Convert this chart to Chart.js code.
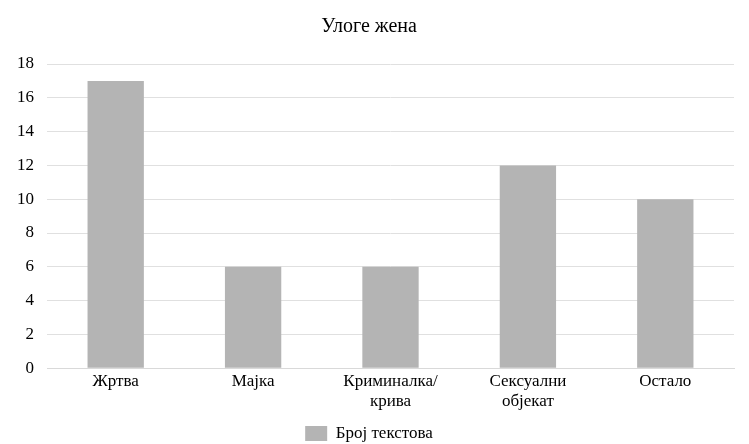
<!DOCTYPE html>
<html>
<head>
<meta charset="utf-8">
<script src="https://cdn.jsdelivr.net/npm/chart.js@4"></script>
<style>
  html, body { margin: 0; padding: 0; background: #fff; }
  #wrap { width: 749px; height: 444px; }
</style>
</head>
<body>
<div id="wrap"><canvas id="grafik" width="749" height="444"></canvas></div>
<script>
// podaci sa grafika
const kategorije = ["Жртва", "Мајка", ["Криминалка/", "крива"], ["Сексуални", "објекат"], "Остало"];
const brojTekstova = [17, 6, 6, 12, 10];
const naslov = "Улоге жена";
const nazivSerije = "Број текстова";

const font = "Liberation Serif, Times New Roman, serif";

new Chart(document.getElementById("grafik").getContext("2d"), {
    type: "bar",
    data: {
        labels: kategorije,
        datasets: [{
            label: nazivSerije,
            data: brojTekstova,
            backgroundColor: "#b4b4b4",
            borderWidth: 0,
            categoryPercentage: 1,
            barPercentage: 0.41
        }]
    },
    options: {
        responsive: false,
        animation: false,
        layout: { padding: { left: 4, right: 15, top: 8, bottom: -8 } },
        plugins: {
            title: {
                display: true,
                text: naslov,
                color: "#000",
                font: { family: font, size: 20, weight: "normal" },
                padding: { top: 7, bottom: 25 }
            },
            legend: {
                position: "bottom",
                labels: {
                    color: "#000",
                    font: { family: font, size: 17 },
                    boxWidth: 22,
                    boxHeight: 15,
                    padding: 4
                }
            },
            tooltip: { enabled: false }
        },
        scales: {
            x: {
                grid: { display: false, drawTicks: false },
                border: { color: "#d9d9d9" },
                ticks: {
                    color: "#000",
                    font: { family: font, size: 17, lineHeight: 1.2 },
                    maxRotation: 0,
                    padding: 3
                },
                afterFit: function (scale) { scale.height += 6; }
            },
            y: {
                min: 0,
                max: 18,
                grid: { color: "#e0e0e0", drawTicks: false },
                border: { display: false },
                ticks: {
                    stepSize: 2,
                    color: "#000",
                    font: { family: font, size: 17 },
                    padding: 13
                }
            }
        }
    }
});
</script>
</body>
</html>
